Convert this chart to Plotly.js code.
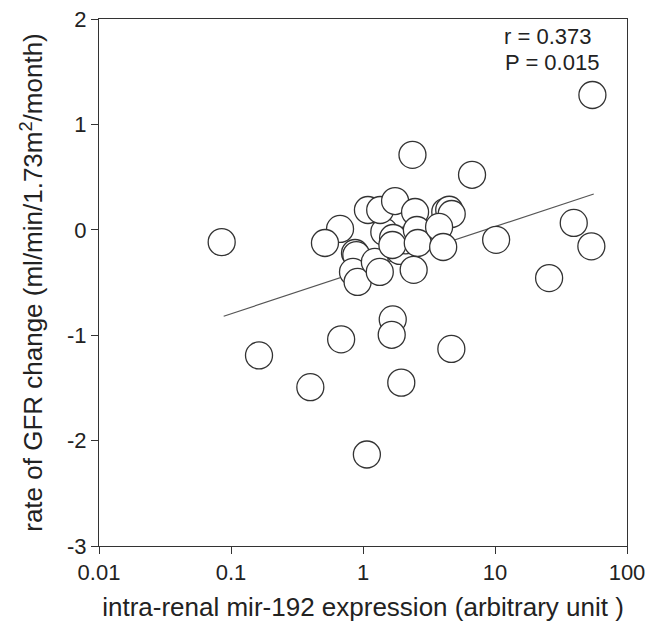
<!DOCTYPE html>
<html>
<head>
<meta charset="utf-8">
<script src="https://cdn.plot.ly/plotly-3.0.1.min.js"></script>
<style>html,body{margin:0;padding:0;background:#fff;}#chart{width:648px;height:631px;}</style>
</head>
<body>
<div id="chart"></div>
<script>
// mir-192 expression (x, log scale) vs rate of GFR change (y)
// first entries are circles mostly hidden behind the cluster
const mir192 = [1.5, 2.0, 1.9, 3.1, 1.45, 2.1,
  54.7, 2.37, 6.7, 0.085, 10.2, 39.5, 53.7, 25.7, 1.68, 1.65, 0.683, 0.163, 4.67, 0.399, 1.95, 1.07,
  1.09, 1.35, 1.75, 2.48, 4.2, 4.5, 4.7, 0.67, 0.515, 0.87, 0.89, 0.84, 0.91, 1.23, 1.34, 1.69, 1.67, 2.56, 2.6, 2.42, 3.77, 4.05];
const gfrChange = [0.1, 0.08, -0.2, -0.05, -0.02, -0.1,
  1.279, 0.711, 0.522, -0.117, -0.095, 0.065, -0.157, -0.458, -0.850, -0.996, -1.039, -1.192, -1.130, -1.493, -1.450, -2.132,
  0.188, 0.188, 0.273, 0.169, 0.17, 0.19, 0.15, 0.008, -0.125, -0.22, -0.24, -0.40, -0.495, -0.305, -0.40, -0.078, -0.144, -0.002, -0.125, -0.38, 0.027, -0.163];
// regression line end points
const fitX = [0.088, 56];
const fitY = [-0.82, 0.34];
// axis ticks
const xTickVals = [0.01, 0.1, 1, 10, 100];
const xTickText = ['0.01', '0.1', '1', '10', '100'];
const yTickVals = [-3, -2, -1, 0, 1, 2];
const yTickText = ['-3', '-2', '-1', '0', '1', '2'];
const statsText = ['r = 0.373', 'P = 0.015'];

const font = "Liberation Sans, Arial, sans-serif";
const txt = '#222';

const traces = [
  {x: fitX, y: fitY, type: 'scatter', mode: 'lines', line: {color: '#555', width: 1.2}, hoverinfo: 'skip'},
  {x: mir192, y: gfrChange, type: 'scatter', mode: 'markers',
   marker: {symbol: 'circle', size: 27, color: '#fff', line: {color: '#333', width: 1.3}}}
];

const layout = {
  width: 648, height: 631,
  margin: {l: 99, r: 21, t: 19, b: 85},
  paper_bgcolor: '#fff', plot_bgcolor: '#fff',
  showlegend: false,
  font: {family: font, color: txt, size: 22},
  xaxis: {
    type: 'log', range: [-2, 2],
    tickvals: xTickVals, ticktext: xTickText,
    ticks: 'outside', ticklen: 7, tickwidth: 1, tickcolor: '#333',
    showline: true, linecolor: '#333', linewidth: 1, mirror: true,
    showgrid: false, zeroline: false,
    tickfont: {size: 22, color: txt},
    title: {text: 'intra-renal mir-192 expression (arbitrary unit )', font: {size: 26, color: txt}, standoff: 13}
  },
  yaxis: {
    range: [-3, 2],
    tickvals: yTickVals, ticktext: yTickText,
    ticks: 'outside', ticklen: 7, tickwidth: 1, tickcolor: '#333',
    showline: true, linecolor: '#333', linewidth: 1, mirror: true,
    showgrid: false, zeroline: false,
    tickfont: {size: 22, color: txt},
    title: {text: 'rate of GFR change (ml/min/1.73m<sup>2</sup>/month)', font: {size: 26, color: txt}, standoff: 16}
  },
  annotations: [
    {xref: 'paper', yref: 'paper', x: 0.935, y: 0.995, xanchor: 'right', yanchor: 'top', text: statsText[0], showarrow: false, font: {size: 22, color: txt}},
    {xref: 'paper', yref: 'paper', x: 0.95, y: 0.945, xanchor: 'right', yanchor: 'top', text: statsText[1], showarrow: false, font: {size: 22, color: txt}}
  ]
};

Plotly.newPlot('chart', traces, layout, {displayModeBar: false, staticPlot: true});
</script>
</body>
</html>
